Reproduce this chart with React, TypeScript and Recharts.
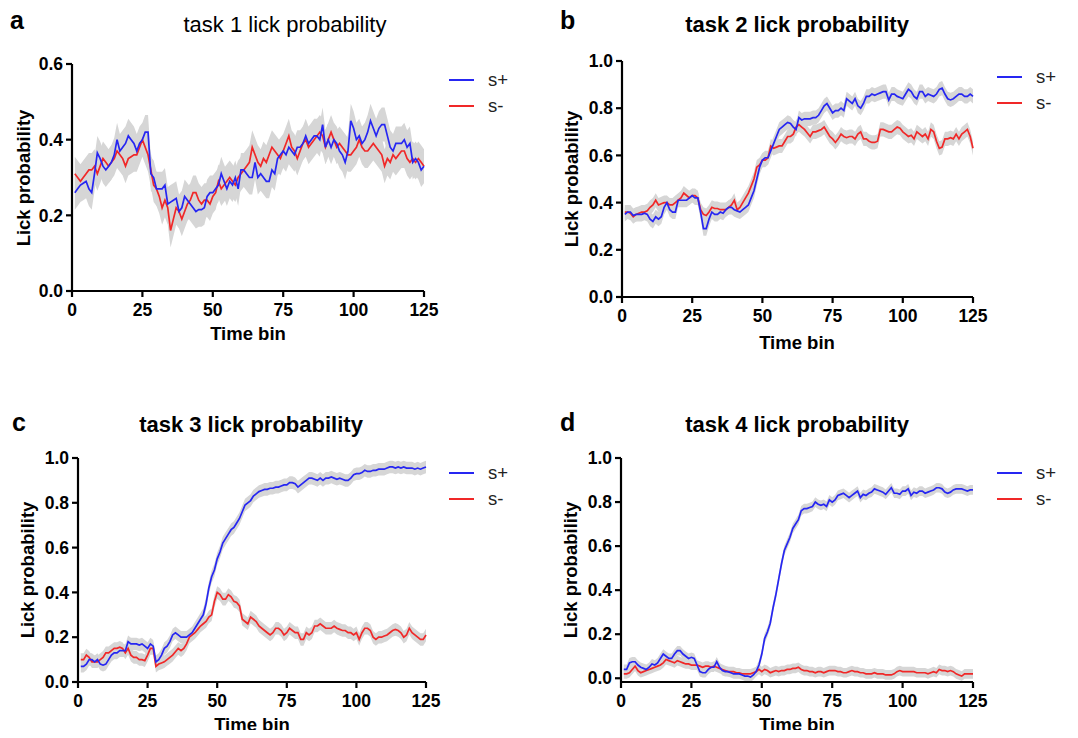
import { Area, ComposedChart, Line, XAxis, YAxis } from 'recharts'

const BINS = Array.from({ length: 125 }, (_, i) => i + 1)
const X_TICKS = [0, 25, 50, 75, 100, 125]

// task 1
const T1_PLUS = [
  0.26, 0.27, 0.28, 0.285, 0.29, 0.27, 0.26, 0.31, 0.365, 0.35, 0.33, 0.32, 0.33, 0.34, 0.36, 0.4, 0.37, 0.38, 0.39, 0.41,
  0.4, 0.39, 0.37, 0.39, 0.4, 0.42, 0.42, 0.31, 0.3, 0.27, 0.27, 0.27, 0.28, 0.23, 0.235, 0.24, 0.245, 0.21, 0.22, 0.25,
  0.24, 0.23, 0.22, 0.21, 0.215, 0.215, 0.22, 0.25, 0.26, 0.26, 0.27, 0.28, 0.31, 0.29, 0.27, 0.29, 0.28, 0.3, 0.27, 0.32,
  0.32, 0.31, 0.3, 0.3, 0.34, 0.3, 0.31, 0.3, 0.29, 0.29, 0.32, 0.31, 0.35, 0.36, 0.37, 0.36, 0.38, 0.37, 0.36, 0.38,
  0.38, 0.39, 0.41, 0.39, 0.4, 0.41, 0.41, 0.4, 0.44, 0.38, 0.4, 0.38, 0.4, 0.39, 0.37, 0.36, 0.34, 0.37, 0.45, 0.43,
  0.4, 0.41, 0.39, 0.4, 0.42, 0.45, 0.43, 0.41, 0.43, 0.44, 0.44, 0.41, 0.38, 0.37, 0.39, 0.39, 0.39, 0.4, 0.38, 0.39,
  0.34, 0.35, 0.34, 0.32, 0.33,
]
const T1_MINUS = [
  0.31, 0.3, 0.29, 0.3, 0.31, 0.32, 0.32, 0.33, 0.31, 0.33, 0.35, 0.34, 0.33, 0.34, 0.35, 0.37, 0.36, 0.35, 0.33, 0.35,
  0.355, 0.36, 0.36, 0.38, 0.4, 0.38, 0.36, 0.32, 0.28, 0.27, 0.25, 0.22, 0.24, 0.22, 0.16, 0.19, 0.22, 0.21, 0.19, 0.21,
  0.23, 0.24, 0.26, 0.26, 0.24, 0.23, 0.24, 0.24, 0.23, 0.25, 0.26, 0.29, 0.27, 0.28, 0.29, 0.3, 0.29, 0.28, 0.3, 0.31,
  0.32, 0.33, 0.34, 0.38, 0.36, 0.34, 0.33, 0.35, 0.34, 0.36, 0.38, 0.37, 0.36, 0.35, 0.37, 0.39, 0.41, 0.38, 0.37, 0.35,
  0.37, 0.39, 0.4, 0.38, 0.39, 0.4, 0.41, 0.42, 0.41, 0.38, 0.4, 0.42, 0.4, 0.38, 0.39, 0.38, 0.37, 0.36, 0.36, 0.37,
  0.38, 0.4, 0.38, 0.37, 0.37, 0.38, 0.39, 0.38, 0.37, 0.36, 0.33, 0.35, 0.34, 0.36, 0.35, 0.36, 0.37, 0.37, 0.35, 0.34,
  0.35, 0.34, 0.35, 0.34, 0.33,
]

// task 2
const T2_PLUS = [
  0.35, 0.36, 0.36, 0.345, 0.35, 0.35, 0.35, 0.355, 0.35, 0.33, 0.32, 0.34, 0.33, 0.34, 0.38, 0.4, 0.37, 0.36, 0.36, 0.41,
  0.41, 0.41, 0.41, 0.42, 0.43, 0.42, 0.42, 0.36, 0.29, 0.29, 0.33, 0.36, 0.35, 0.35, 0.36, 0.355, 0.37, 0.38, 0.38, 0.37,
  0.365, 0.36, 0.37, 0.38, 0.39, 0.42, 0.45, 0.5, 0.55, 0.58, 0.59, 0.59, 0.62, 0.65, 0.68, 0.71, 0.72, 0.73, 0.74, 0.735,
  0.72, 0.71, 0.76, 0.75, 0.755, 0.755, 0.755, 0.76, 0.76, 0.77, 0.79, 0.81, 0.82, 0.8, 0.78, 0.79, 0.79, 0.8, 0.79, 0.84,
  0.83, 0.82, 0.84, 0.81, 0.8, 0.82, 0.85, 0.85, 0.86, 0.855, 0.86, 0.865, 0.87, 0.87, 0.835, 0.86, 0.86, 0.85, 0.845, 0.84,
  0.86, 0.88, 0.87, 0.85, 0.84, 0.87, 0.87, 0.85, 0.86, 0.855, 0.85, 0.86, 0.88, 0.885, 0.86, 0.84, 0.835, 0.84, 0.85, 0.86,
  0.86, 0.85, 0.85, 0.86, 0.85,
]
const T2_MINUS = [
  0.36, 0.36, 0.355, 0.34, 0.35, 0.355, 0.36, 0.36, 0.365, 0.38, 0.39, 0.41, 0.39, 0.395, 0.4, 0.4, 0.39, 0.39, 0.4, 0.41,
  0.42, 0.44, 0.43, 0.42, 0.43, 0.43, 0.42, 0.37, 0.35, 0.345, 0.36, 0.38, 0.375, 0.375, 0.37, 0.37, 0.37, 0.38, 0.39, 0.41,
  0.37, 0.38, 0.4, 0.42, 0.44, 0.47, 0.5, 0.55, 0.56, 0.58, 0.58, 0.59, 0.64, 0.63, 0.635, 0.64, 0.64, 0.66, 0.68, 0.68,
  0.69, 0.72, 0.73, 0.72, 0.71, 0.695, 0.68, 0.7, 0.7, 0.705, 0.71, 0.72, 0.7, 0.68, 0.67, 0.655, 0.67, 0.69, 0.68, 0.675,
  0.68, 0.68, 0.67, 0.69, 0.7, 0.67, 0.67, 0.66, 0.655, 0.655, 0.66, 0.71, 0.71, 0.705, 0.7, 0.7, 0.71, 0.72, 0.715, 0.7,
  0.69, 0.68, 0.685, 0.67, 0.7, 0.69, 0.68, 0.69, 0.67, 0.71, 0.7, 0.66, 0.63, 0.635, 0.67, 0.67, 0.675, 0.67, 0.69, 0.67,
  0.69, 0.7, 0.71, 0.68, 0.63,
]

// task 3
const T3_PLUS = [
  0.07, 0.07, 0.08, 0.1, 0.1, 0.09, 0.1, 0.08, 0.075, 0.08, 0.1, 0.12, 0.13, 0.13, 0.14, 0.14, 0.14, 0.18, 0.17, 0.17,
  0.17, 0.165, 0.17, 0.16, 0.15, 0.17, 0.16, 0.09, 0.1, 0.12, 0.15, 0.16, 0.18, 0.21, 0.22, 0.21, 0.2, 0.2, 0.2, 0.21,
  0.22, 0.24, 0.26, 0.28, 0.3, 0.35, 0.42, 0.47, 0.5, 0.55, 0.58, 0.62, 0.64, 0.66, 0.68, 0.69, 0.71, 0.73, 0.76, 0.79,
  0.8, 0.81, 0.83, 0.84, 0.85, 0.855, 0.86, 0.86, 0.865, 0.865, 0.87, 0.87, 0.875, 0.88, 0.88, 0.89, 0.89, 0.885, 0.87, 0.88,
  0.89, 0.9, 0.91, 0.91, 0.905, 0.9, 0.91, 0.9, 0.91, 0.91, 0.915, 0.91, 0.905, 0.91, 0.905, 0.9, 0.9, 0.91, 0.925, 0.93,
  0.93, 0.935, 0.945, 0.94, 0.94, 0.945, 0.945, 0.95, 0.95, 0.95, 0.955, 0.96, 0.96, 0.955, 0.96, 0.955, 0.96, 0.955, 0.955, 0.955,
  0.95, 0.955, 0.95, 0.955, 0.96,
]
const T3_MINUS = [
  0.1, 0.1, 0.12, 0.11, 0.09, 0.09, 0.09, 0.1, 0.11, 0.13, 0.13, 0.14, 0.15, 0.15, 0.155, 0.15, 0.13, 0.15, 0.12, 0.11,
  0.11, 0.1, 0.1, 0.095, 0.12, 0.15, 0.15, 0.07, 0.08, 0.085, 0.09, 0.1, 0.11, 0.12, 0.135, 0.15, 0.14, 0.15, 0.17, 0.2,
  0.21, 0.22, 0.235, 0.25, 0.26, 0.27, 0.29, 0.3, 0.36, 0.4, 0.39, 0.37, 0.37, 0.39, 0.38, 0.36, 0.355, 0.34, 0.28, 0.27,
  0.26, 0.29, 0.28, 0.27, 0.25, 0.24, 0.23, 0.22, 0.21, 0.22, 0.24, 0.24, 0.23, 0.21, 0.22, 0.24, 0.23, 0.22, 0.22, 0.19,
  0.19, 0.22, 0.21, 0.22, 0.25, 0.25, 0.26, 0.25, 0.24, 0.24, 0.24, 0.25, 0.24, 0.235, 0.23, 0.23, 0.22, 0.22, 0.21, 0.22,
  0.19, 0.22, 0.24, 0.24, 0.23, 0.2, 0.19, 0.2, 0.2, 0.205, 0.21, 0.22, 0.23, 0.235, 0.23, 0.22, 0.2, 0.21, 0.24, 0.22,
  0.21, 0.2, 0.19, 0.19, 0.21,
]

// task 4
const T4_PLUS = [
  0.04, 0.04, 0.07, 0.075, 0.075, 0.06, 0.05, 0.045, 0.04, 0.05, 0.065, 0.06, 0.07, 0.09, 0.11, 0.1, 0.09, 0.09, 0.11, 0.125,
  0.125, 0.11, 0.1, 0.09, 0.095, 0.09, 0.06, 0.03, 0.025, 0.025, 0.04, 0.05, 0.05, 0.075, 0.05, 0.035, 0.03, 0.03, 0.025, 0.02,
  0.02, 0.02, 0.015, 0.01, 0.01, 0.005, 0.015, 0.03, 0.06, 0.11, 0.18, 0.21, 0.25, 0.32, 0.38, 0.45, 0.52, 0.58, 0.61, 0.64,
  0.68, 0.7, 0.72, 0.76, 0.77, 0.77, 0.775, 0.78, 0.8, 0.79, 0.785, 0.79, 0.78, 0.81, 0.8, 0.81, 0.83, 0.835, 0.84, 0.83,
  0.82, 0.83, 0.84, 0.85, 0.82, 0.835, 0.83, 0.84, 0.845, 0.86, 0.855, 0.85, 0.845, 0.835, 0.85, 0.865, 0.84, 0.84, 0.835, 0.85,
  0.85, 0.86, 0.83, 0.845, 0.84, 0.85, 0.85, 0.84, 0.845, 0.85, 0.855, 0.865, 0.865, 0.86, 0.845, 0.84, 0.845, 0.855, 0.86, 0.86,
  0.86, 0.855, 0.85, 0.855, 0.855,
]
const T4_MINUS = [
  0.02, 0.02, 0.025, 0.04, 0.055, 0.035, 0.025, 0.03, 0.035, 0.04, 0.045, 0.05, 0.055, 0.06, 0.07, 0.085, 0.08, 0.075, 0.07, 0.08,
  0.075, 0.07, 0.065, 0.065, 0.06, 0.06, 0.06, 0.055, 0.05, 0.055, 0.055, 0.05, 0.055, 0.05, 0.045, 0.04, 0.035, 0.03, 0.03, 0.03,
  0.025, 0.025, 0.02, 0.02, 0.02, 0.02, 0.025, 0.03, 0.04, 0.03, 0.04, 0.035, 0.025, 0.03, 0.035, 0.03, 0.035, 0.035, 0.04, 0.04,
  0.045, 0.045, 0.05, 0.04, 0.035, 0.035, 0.03, 0.03, 0.025, 0.03, 0.03, 0.025, 0.03, 0.035, 0.035, 0.035, 0.03, 0.03, 0.025, 0.025,
  0.03, 0.035, 0.03, 0.03, 0.025, 0.025, 0.02, 0.02, 0.02, 0.025, 0.02, 0.02, 0.02, 0.015, 0.015, 0.015, 0.02, 0.03, 0.035, 0.03,
  0.03, 0.03, 0.03, 0.03, 0.025, 0.025, 0.025, 0.025, 0.02, 0.025, 0.03, 0.025, 0.04, 0.035, 0.035, 0.03, 0.035, 0.03, 0.02, 0.015,
  0.01, 0.02, 0.02, 0.02, 0.02,
]

// approximate half-width of the grey SEM band, per task
const SEM = [0.045, 0.03, 0.028, 0.022]

const FONT = '"Liberation Sans", Arial, sans-serif'
const BLUE = '#2626f2'
const RED = '#f02828'
const BAND = '#d6d6d6'

type PanelProps = {
  letter: string
  title: string
  boldTitle: boolean
  box: { left: number; top: number; width: number; height: number }
  margin: { top: number; right: number; bottom: number; left: number }
  yWidth: number
  xHeight: number
  yMax: number
  yTicks: number[]
  plus: number[]
  minus: number[]
  sem: number
  letterPos: [number, number]
  titlePos: [number, number]
  yLabelPos: [number, number]
  xLabelPos: [number, number]
  legendPos: [number, number]
}

function LickPanel(p: PanelProps) {
  const data = BINS.map((t, i) => ({
    t,
    plus: p.plus[i],
    minus: p.minus[i],
    plusBand: [p.plus[i] - p.sem, p.plus[i] + p.sem],
    minusBand: [p.minus[i] - p.sem, p.minus[i] + p.sem],
  }))
  const tick = { fill: '#000', fontSize: 17.5, fontWeight: 700, fontFamily: FONT }
  const axisLine = { stroke: '#000', strokeWidth: 2.2 }
  return (
    <>
      <div style={{ position: 'absolute', left: p.letterPos[0], top: p.letterPos[1], transform: 'translateY(-50%)', fontFamily: FONT, fontWeight: 700, fontSize: 25 }}>
        {p.letter}
      </div>
      <div style={{ position: 'absolute', left: p.titlePos[0], top: p.titlePos[1], transform: 'translate(-50%,-50%)', fontFamily: FONT, fontWeight: p.boldTitle ? 700 : 400, fontSize: 22, whiteSpace: 'nowrap' }}>
        {p.title}
      </div>
      <div style={{ position: 'absolute', left: p.box.left, top: p.box.top }}>
        <ComposedChart width={p.box.width} height={p.box.height} data={data} margin={p.margin}>
          <XAxis
            dataKey="t"
            type="number"
            domain={[0, 125]}
            ticks={X_TICKS}
            height={p.xHeight}
            axisLine={axisLine}
            tickLine={axisLine}
            tickSize={6}
            tickMargin={7}
            tick={tick}
          />
          <YAxis
            type="number"
            domain={[0, p.yMax]}
            ticks={p.yTicks}
            width={p.yWidth}
            axisLine={axisLine}
            tickLine={axisLine}
            tickSize={6}
            tickMargin={3}
            tick={tick}
            tickFormatter={(v: number) => v.toFixed(1)}
          />
          <Area dataKey="minusBand" type="linear" stroke="none" fill={BAND} fillOpacity={1} isAnimationActive={false} />
          <Area dataKey="plusBand" type="linear" stroke="none" fill={BAND} fillOpacity={1} isAnimationActive={false} />
          <Line dataKey="minus" type="linear" stroke={RED} strokeWidth={1.7} dot={false} isAnimationActive={false} />
          <Line dataKey="plus" type="linear" stroke={BLUE} strokeWidth={1.7} dot={false} isAnimationActive={false} />
        </ComposedChart>
      </div>
      <div style={{ position: 'absolute', left: p.yLabelPos[0], top: p.yLabelPos[1], transform: 'translate(-50%,-50%) rotate(-90deg)', fontFamily: FONT, fontWeight: 700, fontSize: 18.5, whiteSpace: 'nowrap' }}>
        Lick probability
      </div>
      <div style={{ position: 'absolute', left: p.xLabelPos[0], top: p.xLabelPos[1], transform: 'translate(-50%,-50%)', fontFamily: FONT, fontWeight: 700, fontSize: 18.5, whiteSpace: 'nowrap' }}>
        Time bin
      </div>
      {[
        { name: 's+', color: BLUE, dy: 0 },
        { name: 's-', color: RED, dy: 26 },
      ].map((s) => (
        <div key={s.name} style={{ position: 'absolute', left: p.legendPos[0], top: p.legendPos[1] + s.dy, display: 'flex', alignItems: 'center', transform: 'translateY(-50%)' }}>
          <span style={{ width: 25, height: 2, background: s.color, display: 'inline-block' }} />
          <span style={{ marginLeft: 14, fontFamily: FONT, fontSize: 18.5, color: '#222' }}>{s.name}</span>
        </div>
      ))}
    </>
  )
}

const PANELS: PanelProps[] = [
  {
    letter: 'a', title: 'task 1 lick probability', boldTitle: false,
    box: { left: 0, top: 0, width: 540, height: 360 },
    margin: { top: 64, right: 116, bottom: 29, left: 0 }, yWidth: 72, xHeight: 40,
    yMax: 0.6, yTicks: [0, 0.2, 0.4, 0.6], plus: T1_PLUS, minus: T1_MINUS, sem: SEM[0],
    letterPos: [10, 20], titlePos: [285, 25], yLabelPos: [24, 178], xLabelPos: [248, 334], legendPos: [449, 80],
  },
  {
    letter: 'b', title: 'task 2 lick probability', boldTitle: true,
    box: { left: 540, top: 0, width: 538, height: 360 },
    margin: { top: 61, right: 105, bottom: 23, left: 0 }, yWidth: 82, xHeight: 40,
    yMax: 1, yTicks: [0, 0.2, 0.4, 0.6, 0.8, 1], plus: T2_PLUS, minus: T2_MINUS, sem: SEM[1],
    letterPos: [560, 20], titlePos: [797, 25], yLabelPos: [572, 179], xLabelPos: [797, 343], legendPos: [997, 77],
  },
  {
    letter: 'c', title: 'task 3 lick probability', boldTitle: true,
    box: { left: 0, top: 380, width: 540, height: 358 },
    margin: { top: 78, right: 114, bottom: 16, left: 0 }, yWidth: 78, xHeight: 40,
    yMax: 1, yTicks: [0, 0.2, 0.4, 0.6, 0.8, 1], plus: T3_PLUS, minus: T3_MINUS, sem: SEM[2],
    letterPos: [12, 422], titlePos: [251, 425], yLabelPos: [28, 570], xLabelPos: [252, 725], legendPos: [449, 473],
  },
  {
    letter: 'd', title: 'task 4 lick probability', boldTitle: true,
    box: { left: 540, top: 380, width: 538, height: 358 },
    margin: { top: 78, right: 105, bottom: 16, left: 0 }, yWidth: 81, xHeight: 40,
    yMax: 1, yTicks: [0, 0.2, 0.4, 0.6, 0.8, 1], plus: T4_PLUS, minus: T4_MINUS, sem: SEM[3],
    letterPos: [560, 422], titlePos: [797, 425], yLabelPos: [571, 570], xLabelPos: [797, 725], legendPos: [997, 473],
  },
]

export default function App() {
  return (
    <div style={{ position: 'relative', width: 1078, height: 738, margin: -8, background: '#fff', overflow: 'hidden' }}>
      {PANELS.map((p) => (
        <LickPanel key={p.letter} {...p} />
      ))}
    </div>
  )
}
